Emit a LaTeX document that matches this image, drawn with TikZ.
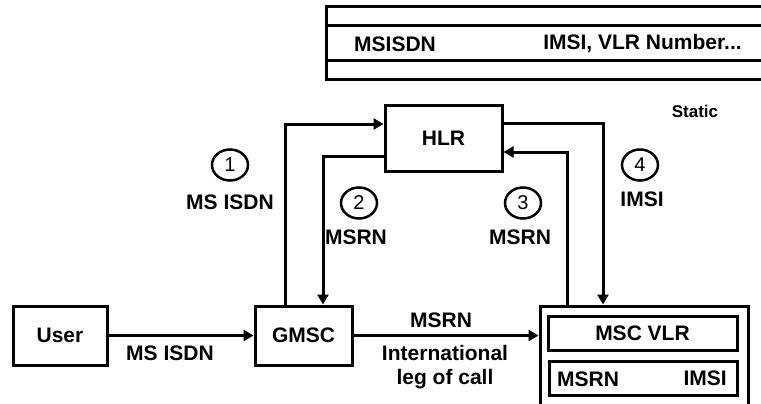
\documentclass[tikz,border=0pt]{standalone}
\usepackage{fontspec}
\setmainfont{Liberation Sans}
\usetikzlibrary{arrows.meta,shapes.geometric}

\begin{document}
\begin{tikzpicture}[x=1pt,y=-1pt,
  box/.style={draw,line width=3pt,inner sep=0pt,font=\bfseries\fontsize{21}{23}\selectfont},
  lbl/.style={inner sep=0pt,font=\bfseries\fontsize{21}{24}\selectfont},
  num/.style={draw,ellipse,line width=2.5pt,minimum width=36pt,minimum height=31pt,
    inner sep=0pt,font=\fontsize{20}{20}\selectfont},
  conn/.style={line width=3pt,-{Triangle[length=10pt,width=11pt]}},
  rule/.style={line width=3pt},
]
\useasboundingbox (0,0) rectangle (761,404);
\clip (0,0) rectangle (761,404);

% subscriber record table (runs off to the right)
\draw[rule] (780,7) -- (326,7) -- (326,80) -- (780,80);
\draw[rule] (326,26) -- (780,26);
\draw[rule] (326,61) -- (780,61);
\node[lbl] (tmsisdn) at (395,44) {MSISDN};
\node[lbl] (timsi) at (642.5,44) {IMSI, VLR Number...};
\node[lbl,font=\bfseries\fontsize{17}{18}\selectfont] (static) at (695,111) {Static};

% network elements
\node[box,minimum width=94pt,minimum height=59pt] (user) at (60,335.5) {User};
\node[box,minimum width=97pt,minimum height=59pt] (gmsc) at (303.5,335.5) {GMSC};
\node[box,minimum width=117pt,minimum height=65pt] (hlr) at (443.5,138.5) {HLR};
\node[box,minimum width=208pt,minimum height=120pt,anchor=north] (msc) at (644,304.5) {};
\node[box,minimum width=189pt,minimum height=34pt] (vlr) at (642.5,333) {MSC VLR};
\node[box,minimum width=188pt,minimum height=34pt] (rec) at (643,378) {};
\node[lbl,anchor=west] (recmsrn) at (557,379) {MSRN};
\node[lbl,anchor=east] (recimsi) at (727,378) {IMSI};

% call set-up signalling
\draw[conn] (user) -- (gmsc);
\draw[conn] (gmsc.east) -- (gmsc.east -| msc.west);
\draw[conn] ([xshift=-18.5pt]gmsc.north) |- ([yshift=14.5pt]hlr.west);
\draw[conn] ([yshift=-17.5pt]hlr.west) -| ([xshift=19.5pt]gmsc.north);
\draw[conn] ([xshift=-77pt]msc.north) |- ([yshift=-13.5pt]hlr.east);
\draw[conn] ([yshift=15.5pt]hlr.east) -| ([xshift=-41pt]msc.north);

% step numbers and message labels
\node[num] (n1) at (230,165) {1};
\node[lbl] (m1) at (230,202) {MS ISDN};
\node[num] (n2) at (359,203) {2};
\node[lbl] (m2) at (356,237) {MSRN};
\node[num] (n3) at (523,203) {3};
\node[lbl] (m3) at (520,237) {MSRN};
\node[num] (n4) at (640,165) {4};
\node[lbl] (m4) at (642,199) {IMSI};

\node[lbl] (uisdn) at (170,353) {MS ISDN};
\node[lbl] (gmsrn) at (441,320) {MSRN};
\node[lbl,align=center] (leg) at (445,367) {International\\leg of call};
\end{tikzpicture}
\end{document}
